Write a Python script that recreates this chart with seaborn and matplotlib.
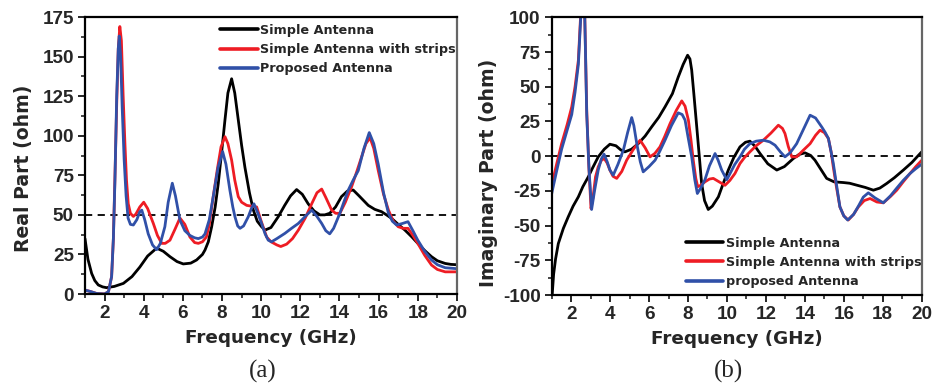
import matplotlib
matplotlib.use("Agg")
import matplotlib.pyplot as plt
from matplotlib.ticker import MultipleLocator
import seaborn as sns
import pandas as pd

# ---- Real part of input impedance (ohm) vs frequency (GHz) ----
real_simple_f = [1.0, 1.15, 1.34, 1.5, 1.68, 1.9, 2.1, 2.5, 2.96, 3.4, 3.8, 4.2, 4.66, 5.0,
                 5.34, 5.7, 6.02, 6.4, 6.7, 7.0, 7.13, 7.3, 7.47, 7.65, 7.81, 8.0, 8.15,
                 8.3, 8.49, 8.65, 8.83, 9.0, 9.17, 9.4, 9.6, 9.8, 10.02, 10.2, 10.5, 10.87,
                 11.2, 11.5, 11.81, 12.1, 12.4, 12.7, 13.0, 13.25, 13.5, 13.8, 14.1, 14.4,
                 14.7, 15.0, 15.47, 15.8, 16.15, 16.4, 16.66, 17.0, 17.34, 17.7, 18.0,
                 18.35, 18.7, 19.0, 19.4, 19.7, 20.0]
real_simple_v = [35, 22, 13, 8.5, 5.7, 4.5, 4, 4.8, 6.7, 11, 17, 24, 29, 27,
                 23.6, 20.5, 19, 19.5, 21.5, 25, 27.8, 33, 42.5, 55, 70, 92, 110,
                 127, 136, 127, 110, 94, 80, 64, 53, 46, 42.5, 40.4, 42, 48.8,
                 56, 62, 66, 63, 57, 52.5, 50, 50, 51, 55, 61.5, 65,
                 65.7, 62, 56, 53.5, 52, 50, 47.8, 44, 40.4, 36, 32,
                 27.5, 23.6, 21, 19.3, 18.7, 18.5]

real_strips_f = [1.0, 1.3, 1.6, 2.0, 2.2, 2.36, 2.45, 2.53, 2.62, 2.7, 2.78, 2.86, 2.95,
                 3.04, 3.12, 3.21, 3.32, 3.47, 3.6, 3.8, 4.0, 4.2, 4.49, 4.7, 4.92, 5.1,
                 5.34, 5.6, 5.85, 6.1, 6.36, 6.6, 6.79, 7.0, 7.2, 7.35, 7.55, 7.75, 7.95,
                 8.15, 8.3, 8.49, 8.65, 8.83, 9.0, 9.26, 9.5, 9.77, 10.0, 10.28, 10.5,
                 10.8, 11.0, 11.3, 11.6, 11.9, 12.25, 12.58, 12.85, 13.09, 13.3, 13.6,
                 13.8, 14.02, 14.3, 14.62, 14.9, 15.13, 15.35, 15.56, 15.75, 15.98, 16.25,
                 16.5, 16.75, 17.0, 17.25, 17.5, 17.75, 18.0, 18.35, 18.7, 19.0, 19.4, 20.0]
real_strips_v = [2.5, 1.5, 0.3, 0, 1.5, 11, 35, 74, 120, 155, 169, 160, 125,
                 95, 72, 57, 51, 49, 50.5, 55, 58, 54, 44.6, 37, 32, 32,
                 34, 41, 48, 44, 36, 32.5, 32, 33, 36, 44, 61.5, 78, 93,
                 99.4, 95, 84.6, 72, 61.5, 58, 56, 55.5, 55, 46, 36, 33,
                 31, 30, 31.5, 35, 40.4, 48, 57, 64, 66.3, 61, 53,
                 51, 51, 58, 67.8, 78, 86.7, 95, 98.7, 92, 78, 63,
                 53, 46, 42.5, 41.5, 41.5, 37, 32, 24.5, 18.3, 15.5, 14, 14]

real_proposed_f = [1.0, 1.3, 1.6, 2.0, 2.2, 2.36, 2.45, 2.53, 2.62, 2.7, 2.75, 2.82, 2.9,
                   3.0, 3.1, 3.2, 3.32, 3.47, 3.65, 3.8, 3.9, 4.05, 4.23, 4.45, 4.66, 4.85,
                   5.08, 5.25, 5.46, 5.62, 5.85, 6.1, 6.36, 6.6, 6.79, 7.0, 7.13, 7.35,
                   7.55, 7.8, 8.03, 8.2, 8.4, 8.55, 8.66, 8.8, 8.92, 9.1, 9.34, 9.5, 9.63,
                   9.8, 10.02, 10.2, 10.36, 10.53, 10.8, 11.21, 11.55, 11.9, 12.25, 12.58,
                   12.85, 13.09, 13.3, 13.5, 13.7, 14.02, 14.25, 14.45, 14.7, 14.96, 15.25,
                   15.52, 15.75, 15.98, 16.25, 16.5, 16.7, 16.92, 17.2, 17.5, 17.75, 18.0,
                   18.35, 18.7, 19.0, 19.4, 20.0]
real_proposed_v = [2.5, 1.5, 0.3, 0, 1.5, 11, 35, 72, 125, 155, 163, 150, 118,
                   85, 62, 48, 44, 43.6, 47, 52, 53, 47, 38, 31, 28, 32,
                   42.5, 58, 70, 62, 46.7, 40, 37, 35.5, 35, 36, 38, 47,
                   61.5, 80, 90, 82, 65.7, 55, 48.8, 43, 41.5, 43, 48.8, 54, 57,
                   52, 44.6, 38, 34, 33, 35, 38.3, 41.5, 44.6, 49, 53,
                   49, 44.6, 40, 38, 41.5, 51, 59, 65.7, 72, 78, 92,
                   102, 95, 82, 64, 51, 46, 43.6, 44.5, 45.7, 40, 34,
                   27, 21.5, 18.5, 16.6, 16]

# ---- Imaginary part of input impedance (ohm) vs frequency (GHz) ----
imag_simple_f = [1.0, 1.1, 1.2, 1.34, 1.6, 1.85, 2.1, 2.37, 2.6, 2.88, 3.1, 3.39, 3.7,
                 3.99, 4.3, 4.55, 4.76, 5.1, 5.45, 5.8, 6.13, 6.5, 6.82, 7.2, 7.5, 7.75,
                 7.98, 8.1, 8.19, 8.3, 8.45, 8.58, 8.7, 8.85, 9.04, 9.25, 9.56, 9.8, 10.07,
                 10.35, 10.67, 10.95, 11.18, 11.45, 11.7, 12.1, 12.56, 12.95, 13.41, 13.7,
                 14.01, 14.3, 14.52, 14.8, 15.12, 15.5, 15.98, 16.3, 16.67, 17.1, 17.52,
                 17.85, 18.2, 18.6, 19.06, 19.5, 20.0]
imag_simple_v = [-105, -85, -74, -63, -52, -43.7, -36, -29.3, -22, -14.9, -8.5, -0.5, 5,
                 8.6, 7.5, 4.5, 3.1, 5, 9.1, 14.5, 21, 28, 35.5, 45, 57, 66,
                 72.7, 70, 62, 45, 21, 0, -19.7, -32, -38.4, -36, -29.3, -20, -10,
                 -1, 6.7, 10, 10.8, 7, 1.9, -5.5, -10, -7.5, -1.7, 1.2,
                 2.4, 0.5, -2.9, -9, -16, -18.5, -19, -19.5, -20.9, -22.5, -24.5,
                 -23, -19.7, -15.5, -10, -4.5, 3.1]

imag_strips_f = [1.0, 1.25, 1.51, 1.8, 2.03, 2.2, 2.37, 2.5, 2.6, 2.7, 2.8, 2.9, 3.02,
                 3.12, 3.25, 3.39, 3.55, 3.7, 3.85, 3.99, 4.15, 4.34, 4.6, 4.85, 5.2, 5.54,
                 5.8, 6.05, 6.3, 6.56, 6.8, 7.08, 7.4, 7.68, 7.85, 8.02, 8.15, 8.27, 8.4,
                 8.5, 8.65, 8.87, 9.1, 9.3, 9.6, 9.9, 10.15, 10.41, 10.67, 10.9, 11.18,
                 11.5, 11.87, 12.25, 12.64, 12.85, 12.98, 13.15, 13.33, 13.58, 13.9, 14.27,
                 14.55, 14.78, 15.0, 15.21, 15.35, 15.46, 15.62, 15.8, 16.0, 16.23, 16.5,
                 16.75, 17.05, 17.35, 17.7, 18.03, 18.4, 18.72, 19.05, 19.4, 19.7, 20.0]
imag_strips_v = [-21, -6, 9, 23, 35.5, 50, 69, 105, 140, 100, 33, -5, -37.7,
                 -30, -15, -7.7, -3, -1.7, -5, -10, -14.5, -16, -11, -2.9, 5, 11.5,
                 6, -0.5, 2, 6.7, 14, 23.5, 33, 39.8, 36, 26, 12, -2.9, -16,
                 -22, -21, -18.5, -16.5, -16, -18.5, -21, -17.5, -12.5, -5.3, -1, 3.1,
                 7.5, 11.5, 16.5, 22.3, 20, 16.3, 7, -0.5, -0.5, 4, 9,
                 15, 18.7, 17, 12.7, 3, -7.7, -22, -36.5, -43, -46, -42,
                 -36.5, -32, -30.5, -33, -33.6, -29, -24.5, -18.5, -12.5, -7.5, -3]

imag_proposed_f = [1.0, 1.25, 1.51, 1.8, 2.03, 2.2, 2.37, 2.5, 2.6, 2.7, 2.8, 2.92, 3.05,
                   3.2, 3.39, 3.55, 3.69, 3.85, 3.99, 4.16, 4.4, 4.68, 4.9, 5.11, 5.22,
                   5.37, 5.55, 5.7, 6.0, 6.31, 6.55, 6.82, 7.15, 7.5, 7.7, 7.85, 8.0, 8.19,
                   8.35, 8.48, 8.65, 8.87, 9.1, 9.39, 9.55, 9.73, 9.99, 10.16, 10.4, 10.67,
                   10.9, 11.18, 11.5, 11.87, 12.2, 12.47, 12.75, 12.98, 13.25, 13.58, 13.9,
                   14.27, 14.55, 14.87, 15.05, 15.21, 15.35, 15.46, 15.62, 15.8, 16.0, 16.2,
                   16.5, 16.75, 17.0, 17.26, 17.6, 18.03, 18.4, 18.72, 19.05, 19.4, 19.7,
                   20.0]
imag_proposed_v = [-27, -11, 5, 19, 30, 46, 66, 102, 140, 100, 30, -10, -38.4,
                   -25, -10, -2, 1.4, -4, -10, -13.7, -6, 4.3, 17, 27.8, 22,
                   9, -4, -11.3, -7.5, -2.9, 3.5, 11.5, 22, 31.2, 30, 26, 14, -0.5,
                   -17, -26.9, -23, -17, -7, 1.9, -3, -10, -17, -12.5, -6, -0.5,
                   5, 9, 10.8, 11.5, 10.3, 7.9, 3, -0.5, 2.5, 9, 18.5,
                   29.5, 27.5, 21, 17, 12.7, 3, -5, -20, -36.5, -43, -46,
                   -42, -36, -29.5, -26.4, -30, -33.6, -28.5, -23, -17.5, -12.5, -9,
                   -5.8]

labels_real = ["Simple Antenna", "Simple Antenna with strips", "Proposed Antenna"]
labels_imag = ["Simple Antenna", "Simple Antenna with strips", "proposed Antenna"]
colors = ["#000000", "#ee1c24", "#3050a8"]

LABEL_FONT = ["DejaVu Sans"]
TICK_FONT = ["Liberation Sans", "DejaVu Sans"]

sns.set_style("ticks")
plt.rcParams["font.family"] = TICK_FONT
plt.rcParams["font.weight"] = "bold"
plt.rcParams["axes.unicode_minus"] = False
plt.rcParams["xtick.direction"] = "out"
plt.rcParams["ytick.direction"] = "out"

fig = plt.figure(figsize=(9.36, 3.89), dpi=100)
ax1 = fig.add_axes([0.0908, 0.2442, 0.3974, 0.712])
ax2 = fig.add_axes([0.5894, 0.2416, 0.3953, 0.7139])


def draw_panel(ax, series, labels, ref):
    ax.axhline(ref, color="black", lw=1.3, ls=(0, (4, 3)), zorder=1)
    for (f, v), lab, c in zip(series, labels, colors):
        df = pd.DataFrame({"Frequency": f, "Value": v})
        sns.lineplot(data=df, x="Frequency", y="Value", ax=ax, color=c, lw=2.0,
                     label=lab, sort=False, estimator=None, zorder=2)
    ax.set_xlim(1, 20)
    ax.xaxis.set_major_locator(MultipleLocator(2))
    ax.xaxis.set_minor_locator(MultipleLocator(1))
    ax.tick_params(which="major", length=5, width=1.4, labelsize=13.6, pad=3)
    ax.tick_params(which="minor", length=3, width=1.2)
    for s in ["left", "bottom", "top"]:
        ax.spines[s].set_linewidth(1.6)
        ax.spines[s].set_color("black")
    ax.spines["right"].set_linewidth(1.6)
    ax.spines["right"].set_color("#666666")
    ax.set_xlabel("Frequency (GHz)", fontsize=13.2, fontweight="bold",
                  family=LABEL_FONT, labelpad=5)
    for t in ax.get_xticklabels() + ax.get_yticklabels():
        t.set_fontweight("bold")


def style_legend(ax, loc, anchor):
    leg = ax.legend(loc=loc, bbox_to_anchor=anchor, frameon=False,
                    borderpad=0, borderaxespad=0, handlelength=2.95, handletextpad=0.2,
                    labelspacing=0.48,
                    prop={"size": 9.2, "weight": "bold", "family": LABEL_FONT})
    for h in leg.legend_handles:
        h.set_linewidth(2.6)


draw_panel(ax1, [(real_simple_f, real_simple_v), (real_strips_f, real_strips_v),
                 (real_proposed_f, real_proposed_v)], labels_real, 50)
ax1.set_ylim(0, 175)
ax1.yaxis.set_major_locator(MultipleLocator(25))
ax1.yaxis.set_minor_locator(MultipleLocator(12.5))
ax1.set_ylabel("Real Part (ohm)", fontsize=13.6, fontweight="bold", family=LABEL_FONT)
ax1.yaxis.set_label_coords(-0.14, 0.455)
style_legend(ax1, "upper left", (0.363, 0.975))

draw_panel(ax2, [(imag_simple_f, imag_simple_v), (imag_strips_f, imag_strips_v),
                 (imag_proposed_f, imag_proposed_v)], labels_imag, 0)
ax2.set_ylim(-100, 100)
ax2.yaxis.set_major_locator(MultipleLocator(25))
ax2.yaxis.set_minor_locator(MultipleLocator(12.5))
ax2.set_ylabel("Imaginary Part (ohm)", fontsize=13.6, fontweight="bold", family=LABEL_FONT)
ax2.yaxis.set_label_coords(-0.145, 0.44)
style_legend(ax2, "lower left", (0.362, 0.025))

fig.text(0.281, 0.044, "(a)", ha="center", va="center", fontsize=18,
         family=["Liberation Serif", "DejaVu Serif"], fontweight="normal")
fig.text(0.778, 0.044, "(b)", ha="center", va="center", fontsize=18,
         family=["Liberation Serif", "DejaVu Serif"], fontweight="normal")

fig.savefig("out.png", dpi=100)
